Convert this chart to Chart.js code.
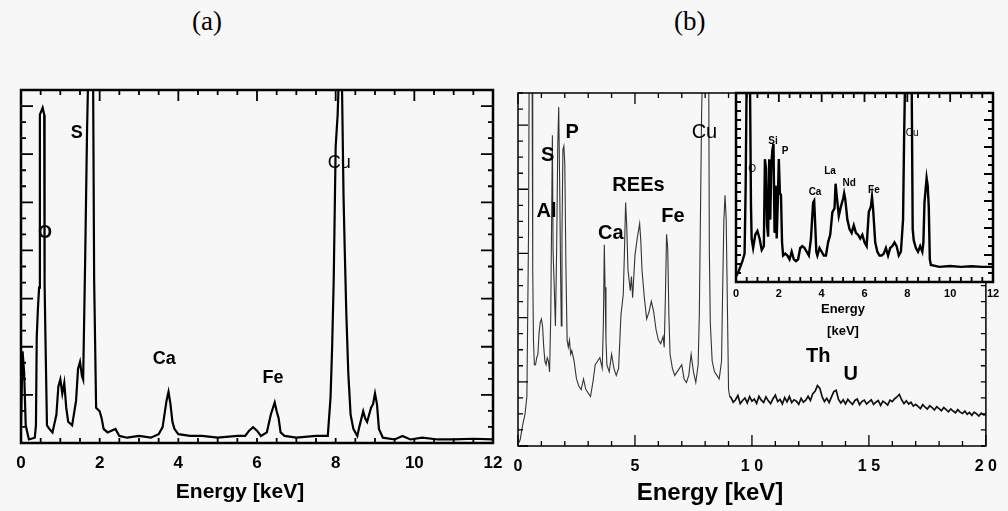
<!DOCTYPE html>
<html>
<head>
<meta charset="utf-8">
<script src="https://cdn.jsdelivr.net/npm/chart.js@4.4.1/dist/chart.umd.min.js"></script>
<style>
  body { margin: 0; background: #f7f7f7; }
  #wrap { position: relative; width: 1008px; height: 511px; overflow: hidden; }
  canvas { position: absolute; left: 0; top: 0; }
  .panel { position: absolute; top: 6px; font: 27px "Liberation Serif", "Times New Roman", serif; color: #000; }
</style>
</head>
<body>
<div id="wrap">
  <div class="panel" style="left:192px">(a)</div>
  <div class="panel" style="left:674px">(b)</div>
  <canvas id="chartA" width="1008" height="511"></canvas>
  <canvas id="chartB" width="1008" height="511"></canvas>
  <canvas id="chartInset" width="1008" height="511"></canvas>
</div>
<script>
// ---- panel (a): EDS spectrum, relative counts (% of full scale) ----
const energyA = [0, 0.04, 0.08, 0.12, 0.2, 0.35, 0.38, 0.4, 0.43, 0.46, 0.48, 0.55, 0.59, 0.6, 0.62, 0.66, 0.72, 0.8,
  0.9, 0.95, 1.0, 1.05, 1.1, 1.15, 1.2, 1.3, 1.4, 1.45, 1.5, 1.55, 1.58, 1.63, 1.68, 1.72, 1.83, 1.86, 1.91, 2.0, 2.05,
  2.1, 2.2, 2.4, 2.5, 2.7, 3.0, 3.3, 3.5, 3.6, 3.7, 3.75, 3.8, 3.85, 3.9, 4.0, 4.3, 4.6, 5.0, 5.5, 5.7, 5.8, 5.9, 6.0,
  6.1, 6.25, 6.35, 6.45, 6.5, 6.55, 6.6, 6.7, 7.0, 7.5, 7.8, 7.87, 7.91, 7.95, 8.0, 8.05, 8.1, 8.15, 8.2, 8.23, 8.27,
  8.32, 8.38, 8.45, 8.55, 8.6, 8.7, 8.75, 8.8, 8.85, 8.9, 8.95, 9.0, 9.05, 9.1, 9.2, 9.5, 9.7, 9.9, 10.2, 10.6, 11,
  11.5, 12];
const countsA = [5, 26, 20, 5, 1, 1.5, 5, 30, 38, 44, 93, 95, 93, 45, 31, 5, 4, 3,
  8, 16, 18, 14, 17, 10, 6, 5, 12, 21, 23, 19, 18, 51, 89, 110, 110, 46, 10, 9, 7,
  4, 3, 4, 2, 1.5, 2, 1.5, 2.5, 4.5, 12, 14.5, 11, 6, 4, 2.5, 2, 2, 1.5, 2, 2, 3.5, 4.5, 3.5,
  2, 3, 8, 11.5, 9, 7, 3, 2, 1.5, 2, 2, 13, 27, 46, 84, 93, 110, 110, 70, 55, 37,
  20, 8, 4, 2, 4.5, 9, 7, 6, 8, 10, 11, 14, 11, 4, 1.5, 1, 2, 1, 1.5, 1, 1,
  1.2, 1];
const tickLabelsA = ['0', '2', '4', '6', '8', '10', '12'];
const peakTextA = ['O', 'S', 'Cu', 'Ca', 'Fe'];
const peakXA = [0.61, 1.42, 8.09, 3.64, 6.41];
const peakYA = [59.5, 87.8, 79.3, 23.8, 18.4];

// ---- panel (b): EDS spectrum 0-20 keV ----
const energyB = [0.05, 0.1, 0.2, 0.3, 0.38, 0.45, 0.48, 0.6, 0.63, 0.66, 0.7, 0.75, 0.8, 0.85, 0.9, 0.95, 1.0, 1.05,
  1.1, 1.15, 1.2, 1.25, 1.3, 1.35, 1.4, 1.43, 1.47, 1.5, 1.55, 1.6, 1.65, 1.7, 1.74, 1.78, 1.82, 1.85, 1.88, 1.92, 1.96,
  2.0, 2.05, 2.1, 2.15, 2.2, 2.25, 2.3, 2.4, 2.5, 2.6, 2.7, 2.8, 2.9, 3.0, 3.1, 3.2, 3.3, 3.4, 3.5, 3.6, 3.65, 3.69,
  3.72, 3.76, 3.8, 3.9, 4.0, 4.1, 4.2, 4.3, 4.4, 4.5, 4.55, 4.6, 4.65, 4.7, 4.75, 4.8, 4.85, 4.9, 5.0, 5.1, 5.2, 5.25,
  5.3, 5.4, 5.5, 5.6, 5.7, 5.8, 5.9, 6.0, 6.1, 6.2, 6.25, 6.3, 6.35, 6.4, 6.45, 6.5, 6.6, 6.7, 6.8, 6.9, 7.0, 7.1, 7.2,
  7.3, 7.4, 7.5, 7.6, 7.7, 7.75, 7.8, 7.85, 7.9, 8.15, 8.18, 8.22, 8.3, 8.4, 8.5, 8.6, 8.7, 8.75, 8.8, 8.85, 8.9, 8.95,
  9.0, 9.05,
  9.1, 9.2, 9.3, 9.4, 9.5, 9.6, 9.7, 9.8, 9.9, 10.0, 10.1, 10.2, 10.3, 10.4, 10.5, 10.6, 10.7, 10.8, 10.9, 11.0,
  11.1, 11.2, 11.3, 11.4, 11.5, 11.6, 11.7, 11.8, 11.9, 12.0, 12.1, 12.2, 12.3, 12.4, 12.5, 12.6, 12.7, 12.8, 12.9, 13.0,
  13.1, 13.2, 13.3, 13.4, 13.5, 13.6, 13.7, 13.8, 13.9, 14.0, 14.1, 14.2, 14.3, 14.4, 14.5, 14.6, 14.7, 14.8, 14.9, 15.0,
  15.1, 15.2, 15.3, 15.4, 15.5, 15.6, 15.7, 15.8, 15.9, 16.0, 16.1, 16.2, 16.3, 16.4, 16.5, 16.6, 16.7, 16.8, 16.9, 17.0,
  17.1, 17.2, 17.3, 17.4, 17.5, 17.6, 17.7, 17.8, 17.9, 18.0, 18.1, 18.2, 18.3, 18.4, 18.5, 18.6, 18.7, 18.8, 18.9, 19.0,
  19.1, 19.2, 19.3, 19.4, 19.5, 19.6, 19.7, 19.8, 19.9, 20.0];
const countsB = [1, 2, 6, 9, 14, 60, 110, 110, 50, 30, 23, 23, 25, 26, 32, 35, 36, 34,
  28, 24, 23, 25, 24, 21, 37, 59, 88, 55, 45, 34, 55, 85, 96, 75, 50, 34, 60, 84, 85,
  80, 50, 30, 28, 30, 26, 27, 24, 19, 17, 16, 19, 16, 15, 14, 18, 23, 24, 25, 22, 35, 57,
  45, 30, 23, 21, 26, 22, 20, 22, 37, 43, 55, 69, 62, 50, 47, 44, 48, 42, 54, 59, 63, 58,
  50, 42, 36, 38, 41, 38, 33, 30, 29, 31, 28, 42, 60, 56, 37, 26, 22, 20, 21, 22, 23, 19, 18,
  20, 26, 21, 18, 23, 37, 66, 95, 110, 110, 55, 35, 24, 21, 20, 19, 24, 45, 64, 71, 64, 40,
  16, 14,
  13.8, 12.4, 13.1, 14.3, 12.0, 12.9, 13.6, 12.2, 14.0, 12.7,
  13.3, 12.1, 14.1, 13.0, 12.3, 13.9, 12.8, 12.0, 13.4, 14.4,
  12.6, 13.2, 11.9, 13.7, 12.5, 14.0, 12.3, 13.1, 12.7, 11.8,
  13.5, 12.4, 13.0, 14.1, 12.9, 14.8, 15.5, 17.1, 16.4, 14.0,
  12.6, 13.5, 12.3, 13.9, 15.4, 15.8, 13.2, 12.2, 13.1, 11.9,
  13.2, 12.4, 11.8, 12.9, 13.3, 11.7, 12.6, 13.0, 11.9, 12.5,
  13.1, 11.8, 12.4, 12.9, 11.5, 12.7, 12.2, 11.6, 13.0, 12.6,
  13.4, 13.9, 14.6, 13.1, 12.0, 12.8, 11.9, 12.4, 11.3, 11.8,
  11.2, 10.6, 11.7, 11.0, 10.5, 11.4, 10.9, 10.2, 11.1, 10.6,
  10.0, 10.9, 10.3, 9.7, 10.5, 9.9, 9.4, 10.3, 9.6, 9.2,
  9.9, 9.0, 9.5, 8.7, 9.6, 9.1, 8.5, 9.3, 8.8, 8.9];
const tickLabelsB = ['0', '5', '1 0', '1 5', '2 0'];
const peakTextB = ['S', 'P', 'Al', 'REEs', 'Ca', 'Fe', 'Cu', 'Th', 'U'];
const peakXB = [1.27, 2.32, 1.22, 5.15, 3.97, 6.62, 7.97, 12.83, 14.22];
const peakYB = [82.4, 88.7, 66.3, 73.9, 60.3, 64.9, 88.7, 25.5, 20.4];

// ---- inset of (b): 0-12 keV ----
const energyI = [0, 0.1, 0.2, 0.3, 0.4, 0.45, 0.5, 0.65, 0.7, 0.73, 0.8, 0.9, 1.0, 1.1, 1.2, 1.3, 1.35, 1.4, 1.45,
  1.5, 1.55, 1.6, 1.65, 1.7, 1.75, 1.8, 1.85, 1.9, 1.95, 2.0, 2.05, 2.1, 2.15, 2.2, 2.3, 2.4, 2.5, 2.6, 2.7, 2.8, 2.9,
  3.0, 3.1, 3.2, 3.3, 3.4, 3.5, 3.6, 3.65, 3.7, 3.75, 3.8, 3.9, 4.0, 4.1, 4.2, 4.3, 4.4, 4.5, 4.6, 4.65, 4.7, 4.8,
  4.9, 5.0, 5.05, 5.1, 5.2, 5.3, 5.4, 5.5, 5.6, 5.7, 5.8, 5.9, 6.0, 6.1, 6.2, 6.3, 6.35, 6.4, 6.5, 6.6, 6.7, 6.8, 6.9,
  7.0, 7.1, 7.2, 7.3, 7.4, 7.5, 7.6, 7.7, 7.8, 7.85, 7.9, 8.2, 8.25, 8.3, 8.4, 8.5, 8.6, 8.7, 8.75, 8.8, 8.9, 8.95,
  9.0, 9.05, 9.1, 9.5, 10, 10.5, 11, 11.5, 12];
const countsI = [3, 5, 8, 11, 15, 50, 110, 110, 40, 23, 18, 25, 27, 23, 17, 19, 65, 60, 30,
  24, 65, 33, 62, 70, 73, 26, 51, 23, 42, 65, 47, 46, 21, 14, 15, 14, 12, 16, 12, 11, 12,
  18, 19, 18, 16, 14, 23, 42, 43, 30, 16, 14, 18, 16, 14, 14, 21, 25, 37, 39, 52, 46, 35,
  40, 44, 47, 44, 33, 28, 26, 30, 26, 25, 23, 25, 21, 19, 37, 40, 45, 39, 21, 16, 14, 14, 15,
  18, 14, 18, 19, 21, 19, 14, 16, 33, 77, 110, 110, 28, 22, 18, 16, 19, 16, 21, 42, 55, 51,
  40, 12, 9, 8, 8.5, 8, 8.3, 8, 8];
const tickLabelsI = ['0', '2', '4', '6', '8', '10', '12'];
const peakTextI = ['O', 'Si', 'P', 'La', 'Nd', 'Ca', 'Fe', 'Cu'];
const peakXI = [0.75, 1.73, 2.29, 4.39, 5.28, 3.69, 6.44, 8.22];
const peakYI = [59.8, 74.6, 69.3, 58.7, 52.4, 47.6, 48.7, 78.8];

Chart.defaults.font.family = '"Liberation Sans", Arial, Helvetica, sans-serif';
Chart.defaults.color = '#000';

// frame around the plot area with inward tick marks on every side
const frameTicks = {
  id: 'frameTicks',
  beforeDraw(chart, args, o) {
    if (!o.fill) return;
    const a = chart.chartArea, ctx = chart.ctx;
    ctx.save();
    ctx.fillStyle = o.fill;
    ctx.fillRect(a.left, a.top, a.right - a.left, a.bottom - a.top);
    ctx.restore();
  },
  afterDatasetsDraw(chart, args, o) {
    const {ctx, chartArea: a, scales: {x, y}} = chart;
    ctx.save();
    ctx.strokeStyle = '#000';
    ctx.lineWidth = o.tickWidth;
    ctx.beginPath();
    (o.marks || []).forEach(m => {
      const scale = m.axis === 'x' ? x : y;
      const n = Math.round((scale.max - scale.min) / m.step);
      for (let i = 0; i <= n; i++) {
        const p = scale.getPixelForValue(scale.min + i * m.step);
        m.sides.forEach(side => {
          if (side === 'bottom') { ctx.moveTo(p, a.bottom); ctx.lineTo(p, a.bottom - m.len); }
          if (side === 'top') { ctx.moveTo(p, a.top); ctx.lineTo(p, a.top + m.len); }
          if (side === 'left') { ctx.moveTo(a.left, p); ctx.lineTo(a.left + m.len, p); }
          if (side === 'right') { ctx.moveTo(a.right, p); ctx.lineTo(a.right - m.len, p); }
        });
      }
    });
    ctx.stroke();
    ctx.lineWidth = o.width;
    ctx.strokeRect(a.left, a.top, a.right - a.left, a.bottom - a.top);
    ctx.restore();
  }
};

// element names written at data positions, plus the axis caption under the ticks
const peakLabels = {
  id: 'peakLabels',
  afterDraw(chart, args, o) {
    const {ctx, scales: {x, y}} = chart;
    ctx.save();
    ctx.fillStyle = '#000';
    ctx.textAlign = 'center';
    ctx.textBaseline = 'middle';
    o.text.forEach((t, i) => {
      const plain = o.plain.includes(t);
      ctx.font = (plain ? '' : 'bold ') + o.size + 'px "Liberation Sans", Arial, sans-serif';
      ctx.fillText(t, x.getPixelForValue(o.x[i]), y.getPixelForValue(o.y[i]));
    });
    const c = o.caption;
    ctx.font = 'bold ' + c.size + 'px "Liberation Sans", Arial, sans-serif';
    c.lines.forEach((line, i) => ctx.fillText(line, c.x, c.y + i * c.gap));
    ctx.restore();
  }
};

function points(xs, ys) {
  return xs.map((x, i) => ({x, y: ys[i]}));
}

function makeChart(id, cfg) {
  return new Chart(document.getElementById(id), {
    type: 'line',
    data: { datasets: [cfg.dataset] },
    plugins: [frameTicks, peakLabels],
    options: {
      responsive: false,
      animation: false,
      devicePixelRatio: 1,
      layout: { padding: cfg.padding },
      elements: { point: { radius: 0 }, line: { tension: 0 } },
      plugins: {
        legend: { display: false },
        tooltip: { enabled: false },
        frameTicks: cfg.frame,
        peakLabels: cfg.labels
      },
      scales: {
        x: {
          type: 'linear', min: 0, max: cfg.xMax,
          grid: { display: false, drawTicks: false },
          border: { display: false },
          ticks: {
            stepSize: cfg.xStep, autoSkip: false, maxRotation: 0, padding: cfg.tickPad,
            font: { size: cfg.tickSize, weight: 'bold' },
            callback: (v, i) => cfg.tickLabels[i]
          },
          afterFit: s => { s.height = cfg.axisHeight; }
        },
        y: {
          min: 0, max: 100,
          ticks: { display: false },
          grid: { display: false, drawTicks: false },
          border: { display: false },
          afterFit: s => { s.width = 0; }
        }
      }
    }
  });
}

makeChart('chartA', {
  dataset: { data: points(energyA, countsA), borderColor: '#000', borderWidth: 2.2, fill: false },
  padding: { left: 21, right: 515, top: 90, bottom: 0 },
  xMax: 12, xStep: 2, tickLabels: tickLabelsA, tickSize: 17, tickPad: 10, axisHeight: 68,
  frame: {
    width: 2.5, tickWidth: 1.8,
    marks: [
      { axis: 'x', step: 0.5, len: 5, sides: ['top', 'bottom'] },
      { axis: 'x', step: 2, len: 11, sides: ['top'] },
      { axis: 'y', step: 100 / 22, len: 5, sides: ['left', 'right'] },
      { axis: 'y', step: 300 / 22, len: 12, sides: ['left', 'right'] }
    ]
  },
  labels: {
    text: peakTextA, x: peakXA, y: peakYA, size: 18, plain: ['Cu'],
    caption: { lines: ['Energy [keV]'], x: 240, y: 492, size: 21, gap: 0 }
  }
});

makeChart('chartB', {
  dataset: {
    data: points(energyB, countsB), borderColor: '#333', borderWidth: 1.1, fill: false,
    segment: {
      borderWidth: c => (c.p0.parsed.x >= 9.05 ? 1.7 : 1.1),
      borderColor: c => (c.p0.parsed.x >= 9.05 ? '#111' : '#333')
    }
  },
  padding: { left: 518, right: 16, top: 93, bottom: 0 },
  xMax: 20, xStep: 5, tickLabels: tickLabelsB, tickSize: 16, tickPad: 11, axisHeight: 65,
  frame: {
    width: 1.5, tickWidth: 1.3,
    marks: [
      { axis: 'x', step: 1, len: 5, sides: ['top', 'bottom'] },
      { axis: 'x', step: 5, len: 11, sides: ['top', 'bottom'] },
      { axis: 'y', step: 100 / 22, len: 5, sides: ['left', 'right'] },
      { axis: 'y', step: 400 / 22, len: 10, sides: ['left'] }
    ]
  },
  labels: {
    text: peakTextB, x: peakXB, y: peakYB, size: 20, plain: ['Cu'],
    caption: { lines: ['Energy [keV]'], x: 710, y: 493, size: 24, gap: 0 }
  }
});

makeChart('chartInset', {
  dataset: { data: points(energyI, countsI), borderColor: '#000', borderWidth: 2.4, fill: false },
  padding: { left: 736, right: 15, top: 93, bottom: 169 },
  xMax: 12, xStep: 2, tickLabels: tickLabelsI, tickSize: 11, tickPad: 5, axisHeight: 60,
  frame: {
    fill: '#f7f7f7', width: 2.5, tickWidth: 1.8,
    marks: [
      { axis: 'x', step: 0.5, len: 5, sides: ['top', 'bottom'] },
      { axis: 'x', step: 2, len: 9, sides: ['top'] },
      { axis: 'y', step: 100 / 21, len: 5, sides: ['left', 'right'] },
      { axis: 'y', step: 300 / 21, len: 9, sides: ['right'] }
    ]
  },
  labels: {
    text: peakTextI, x: peakXI, y: peakYI, size: 10, plain: ['Cu', 'O'],
    caption: { lines: ['Energy', '[keV]'], x: 843, y: 309, size: 13, gap: 22 }
  }
});
</script>
</body>
</html>
